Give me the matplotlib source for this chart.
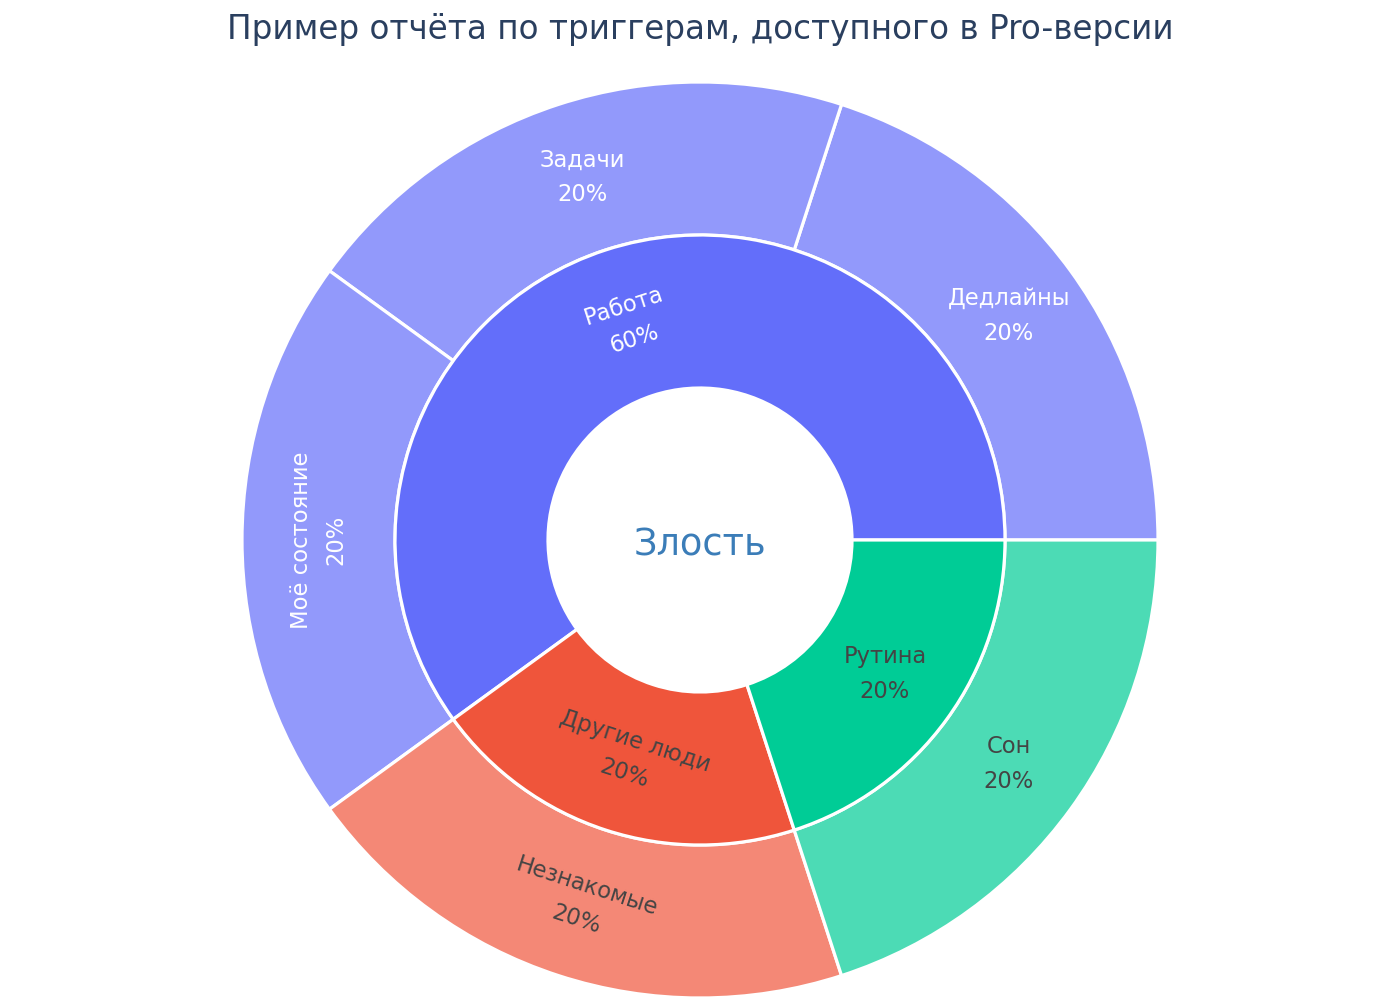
import matplotlib
matplotlib.use("Agg")
import matplotlib.pyplot as plt
from matplotlib.patches import Circle
import numpy as np

# Данные отчёта по триггерам
root_label = "Злость"
inner_labels = ["Работа", "Другие люди", "Рутина"]
inner_values = [3, 1, 1]
outer_labels = ["Дедлайны", "Задачи", "Моё состояние", "Незнакомые", "Сон"]
outer_values = [1, 1, 1, 1, 1]

# оформление
inner_colors = ["#636efa", "#EF553B", "#00cc96"]
outer_colors = ["#9299fb", "#9299fb", "#9299fb", "#f48876", "#4cdbb5"]
inner_text = ["white", "#444444", "#444444"]
outer_text = ["white", "white", "white", "#444444", "#444444"]
inner_orient = ["t", "t", "h"]
outer_orient = ["h", "h", "t", "t", "h"]

R_OUT, R_MID, R_HOLE = 1.0, 305 / 458, 152 / 458

fig = plt.figure(figsize=(14, 10), dpi=100)
ax = fig.add_axes([(700 - 458) / 1400, (460 - 458) / 1000, 916 / 1400, 916 / 1000])

wp = dict(edgecolor="white", linewidth=2.3)
ax.pie(outer_values, radius=R_OUT, colors=outer_colors, startangle=0,
       counterclock=True, wedgeprops=dict(width=R_OUT - R_MID, **wp))
ax.pie(inner_values, radius=R_MID, colors=inner_colors, startangle=0,
       counterclock=True, wedgeprops=dict(width=R_MID - R_HOLE, **wp))
ax.add_patch(Circle((0, 0), R_HOLE - 0.004, facecolor="white", edgecolor="none", zorder=3))


def put_labels(labels, values, r, colors, orients):
    total = sum(outer_values)
    start = 0.0
    for lab, v, c, o in zip(labels, values, colors, orients):
        span = 360.0 * v / sum(values)
        mid = start + span / 2
        start += span
        x, y = r * np.cos(np.radians(mid)), r * np.sin(np.radians(mid))
        rot = 0 if o == "h" else mid - 90 if mid <= 180 else mid - 270
        pct = round(100 * v / total)
        ax.text(x, y, f"{lab}\n{pct}%", ha="center", va="center", rotation=rot,
                rotation_mode="anchor", color=c, fontsize=16.3, linespacing=1.65,
                zorder=5)


put_labels(outer_labels, outer_values, (R_OUT + R_MID) / 2, outer_text, outer_orient)
put_labels(inner_labels, inner_values, (R_MID + R_HOLE) / 2, inner_text, inner_orient)

ax.text(0, -0.01, root_label, ha="center", va="center", fontsize=26.5,
        color="#3b7db8", zorder=5)

ax.set_xlim(-1, 1)
ax.set_ylim(-1, 1)
ax.set_aspect("auto")
ax.axis("off")

fig.text(0.5, 0.971, "Пример отчёта по триггерам, доступного в Pro-версии",
         ha="center", va="center", fontsize=23.5, color="#2a3f5f")

fig.savefig("out.png", dpi=100, facecolor="white")
